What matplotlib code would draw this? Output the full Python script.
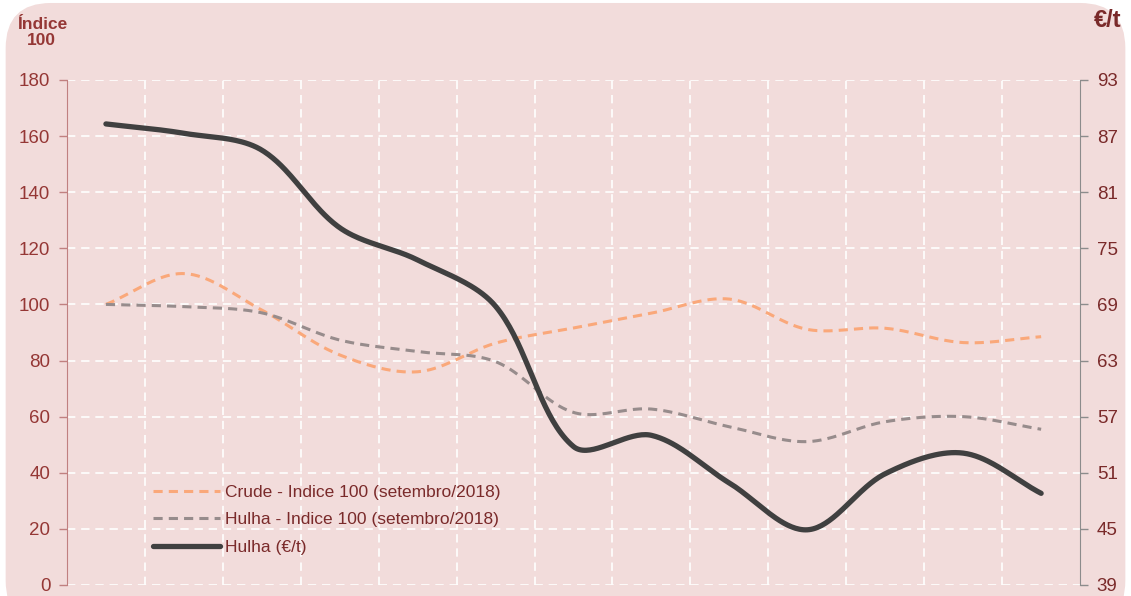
import numpy as np
import matplotlib
matplotlib.use('Agg')
import matplotlib.pyplot as plt
from matplotlib.patches import FancyBboxPatch

plt.rcParams['font.family'] = ['Liberation Sans', 'DejaVu Sans']

# Data (setembro/2018 -> setembro/2019, monthly)
months = ['set/18', 'out/18', 'nov/18', 'dez/18', 'jan/19', 'fev/19', 'mar/19',
          'abr/19', 'mai/19', 'jun/19', 'jul/19', 'ago/19', 'set/19']
crude_idx = [100, 111, 98, 82, 76, 86.2, 91.6, 96.9, 101.9, 91.1, 91.5, 86.4, 88.5]
hulha_idx = [100, 99.2, 97, 87.3, 83.2, 79.6, 61.5, 62.7, 56.4, 51.1, 58.2, 60, 55.5]
hulha_eur = [88.3, 87.3, 85.5, 77.2, 73.75, 68.8, 53.8, 55.0, 49.9, 44.9, 50.9, 53.1, 48.8]

left_ticks = np.arange(0, 181, 20)
right_ticks = np.arange(39, 94, 6)

bg = '#F2DCDB'
red_txt = '#953735'


def smooth(axis, y, n=40):
    # excel-like smoothed line: bezier built in pixel space,
    # tangents split by the length of the neighbouring segments
    x = np.arange(len(y), dtype=float)
    P = axis.transData.transform(np.column_stack([x, y]))
    out = [P[:1]]
    for i in range(len(P) - 1):
        p1, p2 = P[i], P[i + 1]
        p0 = P[i - 1] if i > 0 else p1
        p3 = P[i + 2] if i + 2 < len(P) else p2
        l01 = np.hypot(*(p1 - p0)); l12 = np.hypot(*(p2 - p1)); l23 = np.hypot(*(p3 - p2))
        c1 = p1 + (p2 - p0) / 3 * (l12 / (l01 + l12)) if l01 > 0 else p1 + (p2 - p1) / 3
        c2 = p2 - (p3 - p1) / 3 * (l12 / (l12 + l23)) if l23 > 0 else p2 - (p2 - p1) / 3
        t = np.linspace(0, 1, n)[1:, None]
        out.append((1 - t) ** 3 * p1 + 3 * (1 - t) ** 2 * t * c1 +
                   3 * (1 - t) * t ** 2 * c2 + t ** 3 * p2)
    D = axis.transData.inverted().transform(np.vstack(out))
    return D[:, 0], D[:, 1]


fig = plt.figure(figsize=(11.31, 5.96), dpi=100)
fig.patch.set_facecolor('white')
fig.patches.append(FancyBboxPatch((0.005, -0.05), 0.99, 1.045,
                                  boxstyle='round,pad=0,rounding_size=0.04',
                                  transform=fig.transFigure, facecolor=bg,
                                  edgecolor='none', zorder=-10,
                                  mutation_aspect=1131 / 596))

ax = fig.add_axes([0.0592, 0.0185, 0.8958, 0.8473])
ax.set_facecolor(bg)
ax.set_xlim(-0.5, len(months) - 0.5)
ax.set_ylim(0, 180)
ax.set_yticks(left_ticks)
ax.set_xticks([])
ax.set_xticks(np.arange(0.5, len(months) - 0.5, 1), minor=True)
ax.tick_params(axis='x', which='both', length=0, labelbottom=False)
ax.tick_params(axis='y', colors='#C08080', labelcolor=red_txt, labelsize=13.5,
               length=6, width=1, pad=6)
ax.grid(True, axis='y', which='major', color='white', linestyle=(0, (5, 3.5)), lw=1.2)
ax.grid(True, axis='x', which='minor', color='white', linestyle=(0, (5, 3.5)), lw=1.2)
for s in ['top', 'bottom', 'right']:
    ax.spines[s].set_visible(False)
ax.spines['left'].set_color('#C08080')

ax2 = ax.twinx()
ax2.set_xlim(-0.5, len(months) - 0.5)
ax2.set_ylim(39, 93)
ax2.set_yticks(right_ticks)
ax2.tick_params(axis='y', colors='#8C8C8C', labelcolor='#7A2A2A', labelsize=13.5,
                length=6, width=1, pad=6)
for s in ['top', 'bottom', 'left']:
    ax2.spines[s].set_visible(False)
ax2.spines['right'].set_color('#8C8C8C')

xs, ys = smooth(ax, crude_idx)
l1, = ax.plot(xs, ys, color='#FAA87A', lw=2.2, linestyle=(0, (3, 2)),
              label='Crude - Indice 100 (setembro/2018)')
xs, ys = smooth(ax, hulha_idx)
l2, = ax.plot(xs, ys, color='#978C8C', lw=2.2, linestyle=(0, (3, 2)),
              label='Hulha - Indice 100 (setembro/2018)')
xs, ys = smooth(ax2, hulha_eur)
l3, = ax2.plot(xs, ys, color='#404040', lw=3.8, solid_capstyle='round',
               label='Hulha (€/t)')

leg = ax2.legend(handles=[l1, l2, l3], loc='center left',
                 bbox_to_anchor=(0.085, 0.129), frameon=False, fontsize=12.5,
                 handlelength=3.85, handletextpad=0.3, labelspacing=0.72,
                 borderpad=0, borderaxespad=0)
for t in leg.get_texts():
    t.set_color('#7A2A2A')

fig.text(0.037, 0.945, 'Índice\n100', ha='center', va='center', fontsize=12.5,
         fontweight='bold', color=red_txt, linespacing=1.05)
fig.text(0.992, 0.965, '€/t', ha='right', va='center', fontsize=17,
         fontweight='bold', color='#7A2A2A')

fig.savefig('out.png', dpi=100, facecolor=fig.get_facecolor())
